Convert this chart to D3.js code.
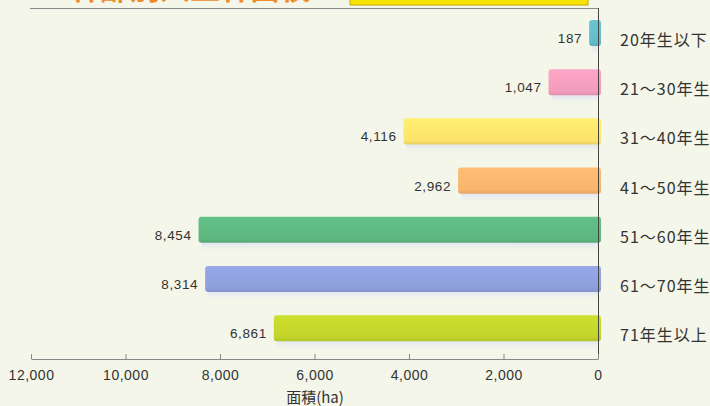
<!DOCTYPE html>
<html>
<head>
<meta charset="utf-8">
<script src="https://cdn.jsdelivr.net/npm/d3@7"></script>
<style>
  body { margin: 0; background: #f4f6e9; }
  svg { display: block; font-family: "Liberation Sans", Arial, "Noto Sans CJK JP", sans-serif; }
</style>
</head>
<body>
<svg id="chart" width="710" height="406"></svg>
<script>
// Data
const categories = ["20年生以下", "21～30年生", "31～40年生", "41～50年生", "51～60年生", "61～70年生", "71年生以上"];
const areas = [187, 1047, 4116, 2962, 8454, 8314, 6861];
const barColors = ["#62bcc8", "#f29cbb", "#fde36c", "#f9b46e", "#5db77f", "#8e9fdc", "#c2d42b"];
const xTicks = [0, 2000, 4000, 6000, 8000, 10000, 12000];

const svg = d3.select("#chart");
const zeroX = 598;

// Scales: bars grow to the left from zero
const x = d3.scaleLinear().domain([0, 12000]).range([zeroX, 31]);
const y = d3.scaleBand().domain(categories).range([8.4, 352.8])
    .paddingInner(0.47).paddingOuter(0.235);

const fmt = d3.format(",");

// Title, mostly outside the top edge as in the picture
svg.append("text")
    .attr("x", 70).attr("y", -1)
    .attr("fill", "#ef8a2b")
    .attr("font-size", 30).attr("font-weight", "bold")
    .attr("font-family", "Noto Sans CJK JP")
    .text("林齢別人工林面積");
svg.append("rect")
    .attr("x", 350).attr("y", -20).attr("width", 238).attr("height", 25)
    .attr("fill", "#f6e500").attr("stroke", "#caa400");

// Frame line on top
svg.append("line")
    .attr("x1", 30).attr("x2", zeroX).attr("y1", 8.5).attr("y2", 8.5)
    .attr("stroke", "#8a8a8a");

// Gradients for bars
const defs = svg.append("defs");
barColors.forEach((c, i) => {
    const g = defs.append("linearGradient").attr("id", "grad" + i)
        .attr("x1", 0).attr("y1", 0).attr("x2", 0).attr("y2", 1);
    g.append("stop").attr("offset", "0%").attr("stop-color", d3.color(c).brighter(0.15));
    g.append("stop").attr("offset", "85%").attr("stop-color", c);
    g.append("stop").attr("offset", "100%").attr("stop-color", d3.color(c).darker(0.25));
});
const shade = defs.append("linearGradient").attr("id", "shade")
    .attr("x1", 0).attr("y1", 0).attr("x2", 0).attr("y2", 1);
shade.append("stop").attr("offset", "0%").attr("stop-color", "#dfe4f2").attr("stop-opacity", 0.9);
shade.append("stop").attr("offset", "100%").attr("stop-color", "#f4f6e9").attr("stop-opacity", 0);

const rows = svg.append("g").selectAll("g")
    .data(categories)
    .enter().append("g");

// Soft reflection under each bar
rows.append("rect")
    .attr("x", (d, i) => x(areas[i]) + 3)
    .attr("y", d => y(d) + y.bandwidth())
    .attr("width", (d, i) => zeroX - x(areas[i]) - 3)
    .attr("height", 10)
    .attr("fill", "url(#shade)");

// Bars
rows.append("rect")
    .attr("x", (d, i) => x(areas[i]))
    .attr("y", d => y(d))
    .attr("width", (d, i) => zeroX - x(areas[i]) + 3)
    .attr("height", y.bandwidth())
    .attr("rx", 3)
    .attr("fill", (d, i) => "url(#grad" + i + ")");

// Value labels
rows.append("text")
    .attr("x", (d, i) => x(areas[i]) - 7)
    .attr("y", d => y(d) + y.bandwidth() / 2 + 10)
    .attr("text-anchor", "end")
    .attr("font-size", 13.5)
    .attr("letter-spacing", 0.6)
    .attr("fill", "#333")
    .text((d, i) => fmt(areas[i]));

// Category labels on the right
rows.append("text")
    .attr("x", 620)
    .attr("y", d => y(d) + y.bandwidth() / 2 + 13)
    .attr("font-size", 16)
    .attr("letter-spacing", 1)
    .attr("fill", "#333")
    .attr("font-family", "Noto Sans CJK JP")
    .text(d => d);

// Vertical zero line
svg.append("line")
    .attr("x1", zeroX + 0.5).attr("x2", zeroX + 0.5)
    .attr("y1", 8).attr("y2", 359)
    .attr("stroke", "#444");

// Bottom axis with ticks pointing up
const xAxis = d3.axisBottom(x)
    .tickValues(xTicks)
    .tickFormat(fmt)
    .tickSize(-5)
    .tickPadding(10)
    .tickSizeOuter(0);

const ax = svg.append("g")
    .attr("transform", "translate(0,359)")
    .call(xAxis);
ax.select(".domain").attr("stroke", "#888");
ax.selectAll(".tick line").attr("stroke", "#888");
ax.selectAll(".tick text")
    .attr("font-size", 14)
    .attr("letter-spacing", 0.5)
    .attr("fill", "#333")
    .attr("dy", "0.8em");

// Axis title
svg.append("text")
    .attr("x", 315).attr("y", 403)
    .attr("text-anchor", "middle")
    .attr("font-size", 15)
    .attr("fill", "#333")
    .attr("font-family", "Noto Sans CJK JP")
    .text("面積(ha)");
</script>
</body>
</html>
